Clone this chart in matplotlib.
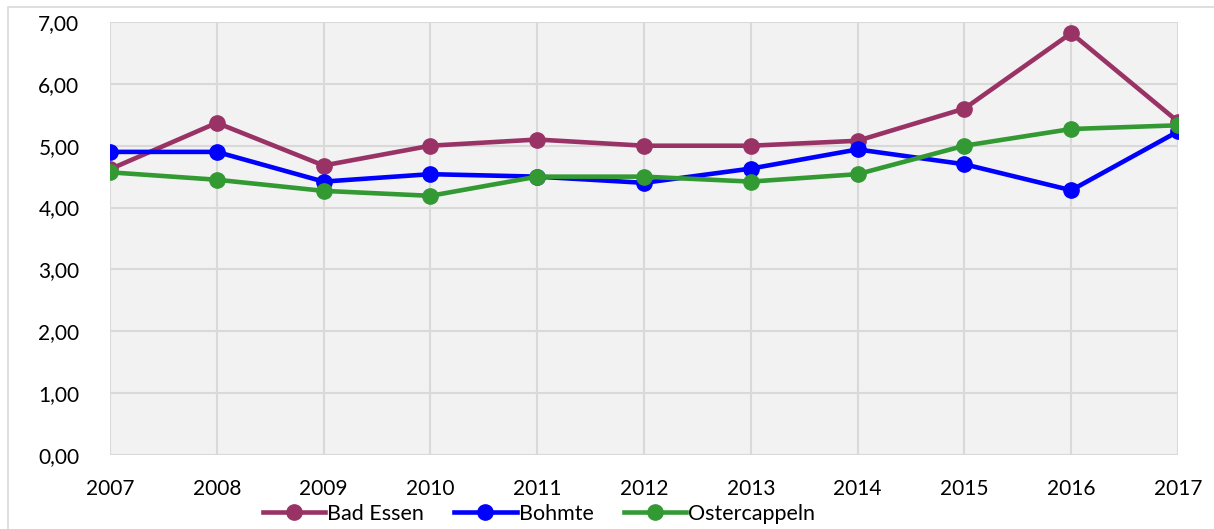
import numpy as np
import matplotlib.pyplot as plt
from matplotlib.patches import Rectangle

# Daten
jahre = ['2007', '2008', '2009', '2010', '2011', '2012', '2013', '2014', '2015', '2016', '2017']
bad_essen = [4.62, 5.37, 4.68, 5.00, 5.10, 5.00, 5.00, 5.08, 5.60, 6.82, 5.39]
bohmte = [4.90, 4.90, 4.42, 4.54, 4.50, 4.40, 4.63, 4.94, 4.70, 4.28, 5.23]
ostercappeln = [4.57, 4.45, 4.27, 4.19, 4.50, 4.50, 4.42, 4.54, 5.00, 5.27, 5.33]
yticks = [0, 1, 2, 3, 4, 5, 6, 7]

plt.rcParams['font.family'] = ['Lato', 'DejaVu Sans']

fig = plt.figure(figsize=(12.14, 5.29), dpi=100)
ax = fig.add_axes([110/1214, 74/529, 1068/1214, 433/529])
ax.set_facecolor('#f2f2f2')

x = np.arange(len(jahre))
ax.plot(x, bad_essen, color='#993366', lw=3.3, marker='o', ms=11, label='Bad Essen')
ax.plot(x, bohmte, color='#0000ff', lw=3.3, marker='o', ms=11, label='Bohmte')
ax.plot(x, ostercappeln, color='#339933', lw=3.3, marker='o', ms=11, label='Ostercappeln')

ax.set_xlim(0, len(jahre) - 1)
ax.set_ylim(0, 7)
ax.set_xticks(x)
ax.set_xticklabels(jahre)
ax.set_yticks(yticks)
ax.set_yticklabels([('%.2f' % v).replace('.', ',') for v in yticks])
ax.tick_params(length=0, labelsize=15)
ax.tick_params(axis='x', pad=17)
ax.tick_params(axis='y', pad=22)
ax.grid(True, color='#d9d9d9', lw=1.5)
ax.set_axisbelow(True)
for s in ax.spines.values():
    s.set_visible(False)

# Legende
ax.legend(loc='center', bbox_to_anchor=(539/1214, 15/529), bbox_transform=fig.transFigure,
          ncol=3, frameon=False, fontsize=15.5, handlelength=2.9, handletextpad=0.1,
          columnspacing=1.4, borderaxespad=0)

# Rahmen
fig.patches.append(Rectangle((8/1214, -0.1), 1.2, 1.1 - 7/529, transform=fig.transFigure,
                             fill=False, edgecolor='#d9d9d9', lw=1.2))

plt.savefig('out.png')
